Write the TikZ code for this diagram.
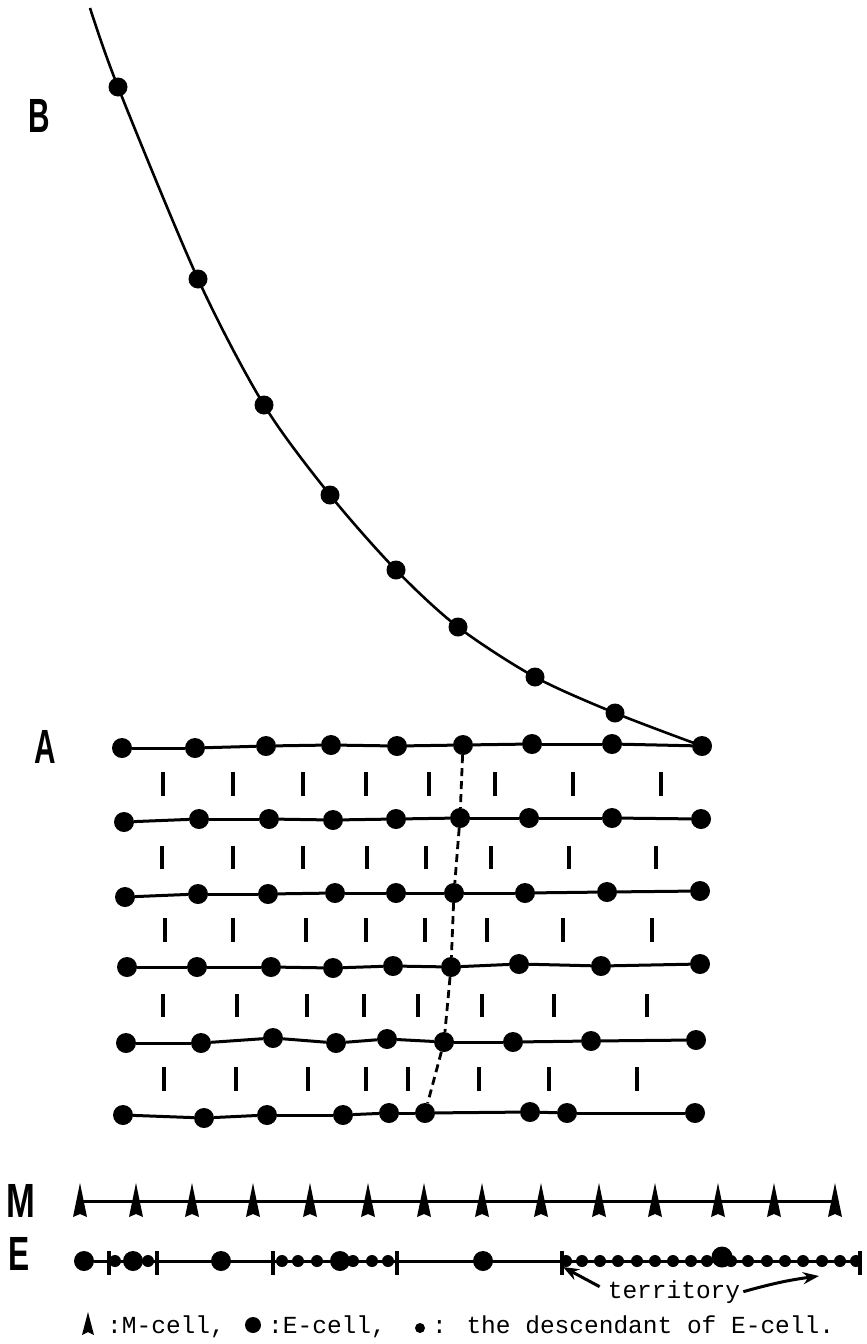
\documentclass[tikz,border=0pt]{standalone}
\usepackage{fontspec}
\usetikzlibrary{arrows.meta}
\newfontfamily\monofnt{Liberation Mono}
\newfontfamily\labfnt{Liberation Sans}
\newcommand\gridrow[2]{%
  \foreach \px/\py [count=\i] in {#2} {\node[dot] (r#1c\i) at (\px,\py) {};}%
  \foreach \i in {1,...,8} {\pgfmathtruncatemacro\j{\i+1}\draw[hline] (r#1c\i) -- (r#1c\j);}%
}
\newcommand\barrow[3]{%
  \foreach \bx in {#3} {\draw[vbar] (\bx,#1) -- (\bx,#2);}%
}
\begin{document}
\begin{tikzpicture}[x=1pt,y=-1pt,
  dot/.style={circle,fill=black,inner sep=0pt,minimum size=20pt},
  cdot/.style={circle,fill=black,inner sep=0pt,minimum size=19pt},
  sdot/.style={circle,fill=black,inner sep=0pt,minimum size=12pt},
  hline/.style={line width=3pt},
  vbar/.style={line width=3.2pt},
  curveline/.style={line width=2.6pt},
  dashline/.style={line width=2.8pt,dash pattern=on 8pt off 5pt},
  lbl/.style={font=\labfnt\bfseries\fontsize{48}{52}\selectfont,inner sep=0pt},
  mono/.style={font=\monofnt\fontsize{24.5}{28}\selectfont,inner sep=0pt},
  tarrow/.style={line width=3pt,-{Stealth[length=16pt,width=12pt]}},
  ]
\useasboundingbox (0,0) rectangle (867,1344);

% labels
\node[lbl] (labB) at (39,116) {\scalebox{0.62}[1]{B}};
\node[lbl] (labA) at (45,747) {\scalebox{0.62}[1]{A}};
\node[lbl] (labM) at (21,1201) {\scalebox{0.72}[1]{M}};
\node[lbl] (labE) at (19,1254) {\scalebox{0.66}[1]{E}};

% grid
\gridrow{1}{122/748,195/748,266/746,331/745,397/746,463/745,532/744,612/744,702/746}
\gridrow{2}{124/822,199/819,269/819,333/820,396/819,460/818,529/818,612/818,701/819}
\gridrow{3}{125/897,198/894,268/894,335/893,396/893,454/893,525/893,607/892,700/891}
\gridrow{4}{127/967,197/967,271/967,333/968,393/966,451/967,519/964,601/966,700/964}
\gridrow{5}{126/1043,201/1043,273/1038,336/1043,387/1039,444/1042,513/1042,591/1041,696/1040}
\gridrow{6}{123/1115,204/1118,267/1115,343/1115,389/1113,425/1113,530/1112,567/1113,695/1113}

\barrow{772}{796}{163,233,303,366,429,495,573,661}
\barrow{846}{869}{162,233,303,367,426,491,569,656}
\barrow{918}{942}{165,233,306,366,425,487,563,652}
\barrow{994}{1017}{163,237,307,364,418,482,554,647}
\barrow{1067}{1091}{164,236,308,366,408,479,549,637}

% dashed lineage
\draw[dashline] (r1c6) -- (r2c6) -- (r3c6) -- (r4c6) -- (r5c6) -- (r6c6);

% curve B
\coordinate (btop) at (90,8);
\foreach \px/\py [count=\i] in {118/87,198/279,264/405,330/495,396/570,458/627,535/677,615/713}
  {\node[cdot] (b\i) at (\px,\py) {};}
\draw[curveline] plot[smooth,tension=0.5] coordinates {(btop) (b1) (b2) (b3) (b4) (b5) (b6) (b7) (b8) (r1c9)};

% M line
\foreach \px [count=\i] in {80,136,192,253,310,368,424,482,541,599,655,718,774,835}
  {\coordinate (m\i) at (\px,1201);}
\draw[hline] (m1) -- (m14);
\foreach \i in {1,...,14}
  {\fill[shift={(m\i)}] (0,-18) -- (7,16) -- (0,13) -- (-7,16) -- cycle;}

% E line
\coordinate (eEnd) at (860,1261);
\foreach \px [count=\i] in {84,133,221,340,483}
  {\node[dot] (E\i) at (\px,1261) {};}
\node[dot,minimum size=21pt] (E6) at (722,1257) {};
\draw[hline] (E1) -- (eEnd);
\foreach \px [count=\i] in {115,148,282,298,317,353,372,388,566,582,600,618,637,655,673,691,707,731,748,767,785,803,822,840,856}
  {\node[sdot] (e\i) at (\px,1261) {};}
\foreach \bx in {109,157,273,397,562,860}
  {\draw[vbar] (\bx,1251) -- (\bx,1275);}

% territory
\node[mono,anchor=base] (terr) at (674,1298) {territory};
\coordinate (tipL) at (563,1267);
\coordinate (tipR) at (819,1276);
\draw[tarrow] ([xshift=-8pt,yshift=5pt]terr.west) -- (tipL);
\draw[tarrow] ([xshift=3pt]terr.east) to[bend left=4] (tipR);

% legend
\fill (88,1312) -- (94,1335) -- (88,1332) -- (82,1335) -- cycle;
\node[dot,minimum size=16pt] (legE) at (253,1325) {};
\node[sdot,minimum size=10pt] (legS) at (420,1328) {};
\node[mono,anchor=base west] (legM) at (107,1333) {:M-cell,};
\node[mono,anchor=base west] (legEt) at (268,1333) {:E-cell,};
\node[mono,anchor=base west] (legSt) at (432,1333) {: the descendant of E-cell.};
\end{tikzpicture}
\end{document}
